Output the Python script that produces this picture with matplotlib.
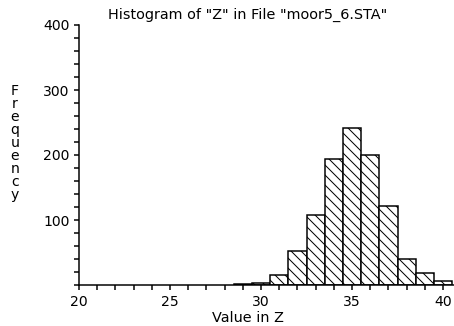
import matplotlib
matplotlib.use("Agg")
import matplotlib.pyplot as plt
from matplotlib.ticker import MultipleLocator

# Histogram of Z, bins of width 1 centred on integer values
bin_centers = [29, 30, 31, 32, 33, 34, 35, 36, 37, 38, 39, 40]
counts = [1, 3, 16, 53, 107, 194, 241, 200, 121, 40, 19, 6]

plt.rcParams['font.family'] = ['DejaVu Sans']
plt.rcParams['hatch.linewidth'] = 0.6

dpi = 120
fig = plt.figure(figsize=(454 / dpi, 326 / dpi), dpi=dpi)
ax = fig.add_axes([79 / 454, 1 - 285 / 326, 1 - 79 / 454, 260 / 326])

ax.bar(bin_centers, counts, width=1.0, color='white', edgecolor='black',
       linewidth=0.9, hatch='\\\\\\\\')

ax.set_xlim(20, 40.6)
ax.set_ylim(0, 400)
ax.spines['top'].set_visible(False)
ax.spines['right'].set_visible(False)
ax.spines['left'].set_linewidth(0.9)
ax.spines['bottom'].set_linewidth(0.9)

ax.xaxis.set_major_locator(MultipleLocator(5))
ax.xaxis.set_minor_locator(MultipleLocator(1))
ax.yaxis.set_major_locator(MultipleLocator(100))
ax.yaxis.set_minor_locator(MultipleLocator(20))
ax.set_yticks([100, 200, 300, 400])
ax.tick_params(which='both', direction='out', length=3.2, width=0.9,
               labelsize=8.4, pad=2.5)

fig.text(248 / 454, 1 - 15 / 326, 'Histogram of "Z" in File "moor5_6.STA"',
         ha='center', va='center', fontsize=8.6)
fig.text(248 / 454, 1 - 318 / 326, 'Value in Z', ha='center', va='center',
         fontsize=8.6)
fig.text(15 / 454, 1 - 143 / 326, '\n'.join('Frequency'), ha='center',
         va='center', fontsize=8.4, linespacing=0.92)

fig.savefig('out.png', dpi=dpi)
